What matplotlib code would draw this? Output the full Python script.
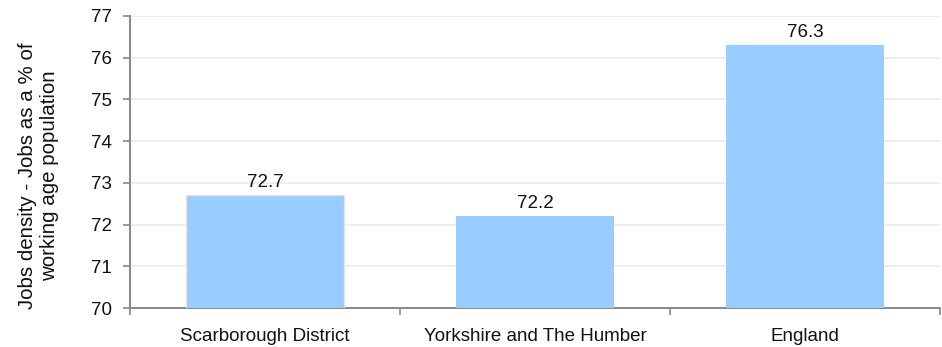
import matplotlib
matplotlib.use("Agg")
import matplotlib.pyplot as plt

categories = ["Scarborough District", "Yorkshire and The Humber", "England"]
values = [72.7, 72.2, 76.3]
value_labels = ["72.7", "72.2", "76.3"]
y_ticks = [70, 71, 72, 73, 74, 75, 76, 77]

plt.rcParams["font.family"] = ["Liberation Sans", "DejaVu Sans"]

W, H = 942, 347
fig = plt.figure(figsize=(W / 100, H / 100), dpi=100)
ax = fig.add_axes([0.138, 0.112, 0.860, 0.842])

x = list(range(len(categories)))
bars = ax.bar(x, values, width=0.585, color="#99CCFF", edgecolor="none", zorder=3)
# faint outline on the first bar
bars[0].set_edgecolor("#E8E4D8")
bars[0].set_linewidth(1.0)

for xi, v, lab in zip(x, values, value_labels):
    ax.annotate(lab, (xi, v), xytext=(0, 3), textcoords="offset points",
                ha="center", va="bottom", fontsize=13.5, color="#111111", zorder=4)

ax.set_ylim(70, 77)
ax.set_xlim(-0.5, len(categories) - 0.5)
ax.set_yticks(y_ticks)
ax.set_yticklabels([str(t) for t in y_ticks], fontsize=13.5, color="#111111")
ax.set_xticks(x)
ax.set_xticklabels(categories, fontsize=13.5, color="#111111")
ax.tick_params(axis="x", length=0, pad=14)
ax.tick_params(axis="y", length=5, width=1.2, color="#888888", pad=8)

# boundary ticks between categories
ax.set_xticks([-0.5, 0.5, 1.5, 2.5], minor=True)
ax.tick_params(axis="x", which="minor", length=5, width=1.2, color="#888888", direction="out")

ax.grid(axis="y", color="#EBEBEB", linewidth=1.2, zorder=0)
ax.set_axisbelow(True)

for s in ["top", "right"]:
    ax.spines[s].set_visible(False)
for s in ["left", "bottom"]:
    ax.spines[s].set_color("#888888")
    ax.spines[s].set_linewidth(1.4)

# y-axis title, two centred lines
fig.text(39 / W, 1 - 176 / H, "Jobs density - Jobs as a % of\nworking age population",
         rotation=90, ha="center", va="center", multialignment="center",
         fontsize=14.8, color="#111111", linespacing=1.2)

fig.savefig("out.png", dpi=100)
